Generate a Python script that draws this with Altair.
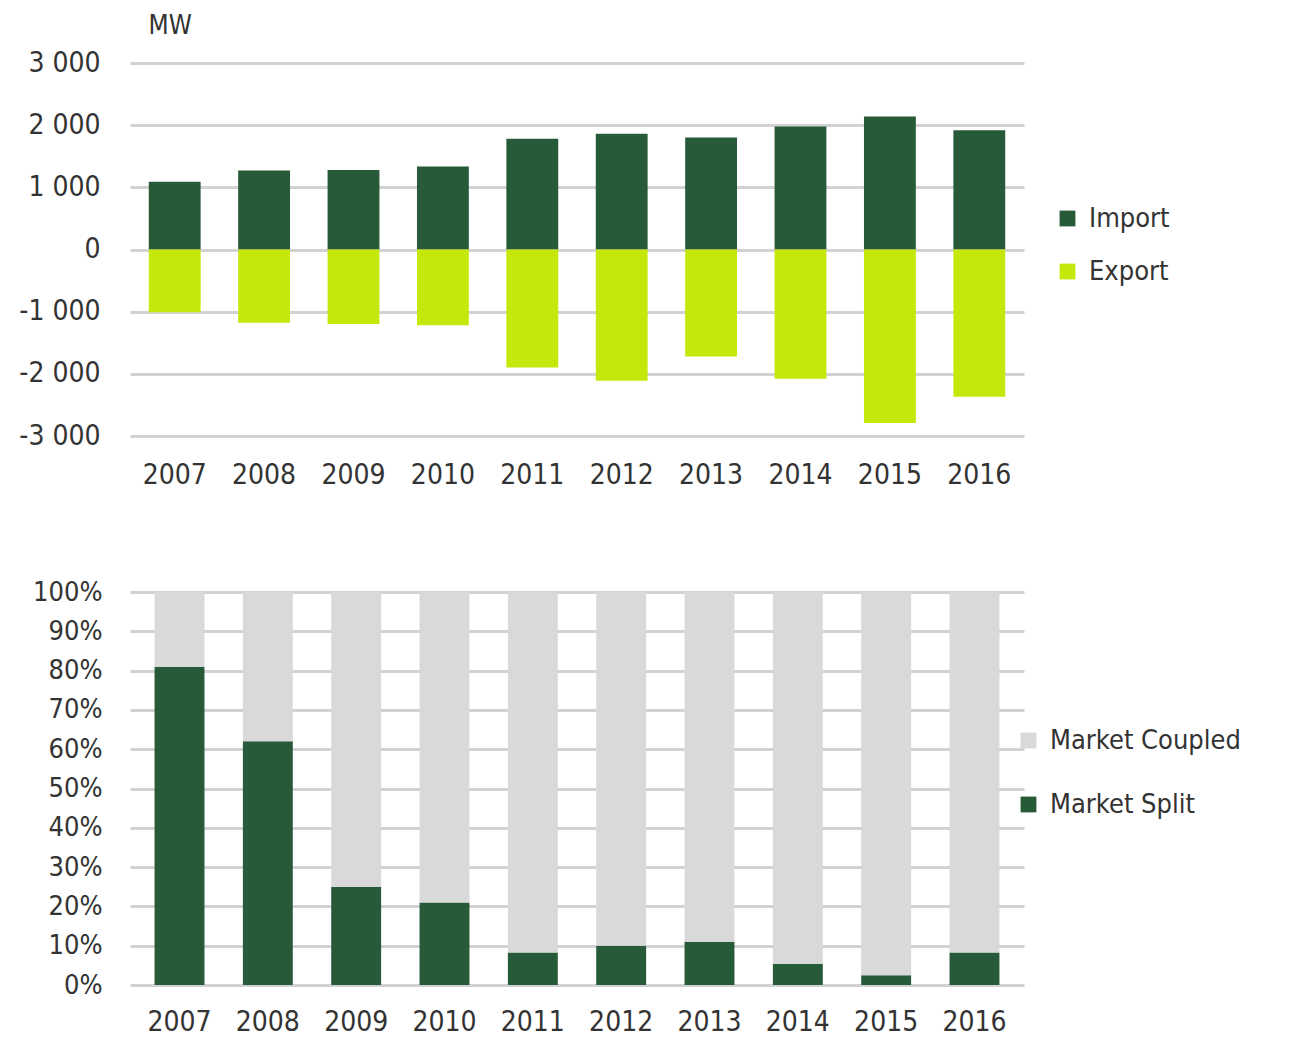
import altair as alt
import pandas as pd

years = ["2007", "2008", "2009", "2010", "2011", "2012", "2013", "2014", "2015", "2016"]
import_mw = [1090, 1270, 1280, 1335, 1780, 1860, 1800, 1980, 2140, 1920]
export_mw = [-1010, -1180, -1200, -1220, -1900, -2110, -1720, -2080, -2790, -2370]
market_split = [0.81, 0.62, 0.25, 0.21, 0.083, 0.10, 0.11, 0.054, 0.025, 0.083]
market_coupled = [0.19, 0.38, 0.75, 0.79, 0.917, 0.90, 0.89, 0.946, 0.975, 0.917]

FONT = "'DejaVu Sans Condensed', 'Liberation Sans Narrow', 'Roboto Condensed', 'Liberation Sans', sans-serif"
DARK = "#265A38"
LIME = "#C5E80A"
GRAY = "#D9D9D9"
TXT = "#333333"

top_df = pd.DataFrame(
    [{"year": y, "series": "Import", "value": v} for y, v in zip(years, import_mw)]
    + [{"year": y, "series": "Export", "value": v} for y, v in zip(years, export_mw)]
)
bot_df = pd.DataFrame(
    [{"year": y, "series": "Market Split", "value": v, "ord": 0} for y, v in zip(years, market_split)]
    + [{"year": y, "series": "Market Coupled", "value": v, "ord": 1} for y, v in zip(years, market_coupled)]
)

top = alt.Chart(top_df).mark_bar().encode(
    x=alt.X("year:O", title=None, scale=alt.Scale(paddingInner=0.42, paddingOuter=0.21),
            axis=alt.Axis(labelAngle=0, ticks=False, tickSize=0, domain=False, labelPadding=25,
                          labelFontSize=28, labelColor=TXT, labelFont=FONT)),
    y=alt.Y("value:Q", scale=alt.Scale(domain=[-3000, 3000], nice=False),
            axis=alt.Axis(values=[-3000, -2000, -1000, 0, 1000, 2000, 3000],
                          labelExpr="replace(replace(format(datum.value, ','), ',', ' '), '\u2212', '-')",
                          ticks=False, tickSize=0, domain=False, labelPadding=30,
                          labelFontSize=28, labelColor=TXT, labelFont=FONT,
                          gridColor="#D2D2D2", gridWidth=3,
                          title="MW", titleAngle=0, titleAlign="left", titleBaseline="alphabetic",
                          titleX=18, titleY=-30, titleFontSize=26, titleFontWeight="normal",
                          titleColor=TXT, titleFont=FONT)),
    color=alt.Color("series:N", scale=alt.Scale(domain=["Import", "Export"], range=[DARK, LIME]),
                    legend=alt.Legend(title=None, orient="none", legendX=924, legendY=142,
                                      symbolType="square", symbolSize=250, symbolStrokeWidth=0,
                                      labelFontSize=27, labelFont=FONT, labelColor=TXT,
                                      rowPadding=25, labelOffset=8, labelLimit=400)),
).properties(width=894, height=373)

bottom = alt.Chart(bot_df).mark_bar().encode(
    x=alt.X("year:O", title=None, scale=alt.Scale(paddingInner=0.435, paddingOuter=0.278),
            axis=alt.Axis(labelAngle=0, ticks=False, tickSize=0, domain=False, labelPadding=23,
                          labelFontSize=28, labelColor=TXT, labelFont=FONT)),
    y=alt.Y("value:Q", stack="zero", scale=alt.Scale(domain=[0, 1], nice=False),
            axis=alt.Axis(values=[0, 0.1, 0.2, 0.3, 0.4, 0.5, 0.6, 0.7, 0.8, 0.9, 1.0],
                          format=".0%", title=None,
                          ticks=False, tickSize=0, domain=False, labelPadding=28,
                          labelFontSize=27, labelColor=TXT, labelFont=FONT,
                          gridColor="#D2D2D2", gridWidth=3)),
    color=alt.Color("series:N", scale=alt.Scale(domain=["Market Coupled", "Market Split"], range=[GRAY, DARK]),
                    legend=alt.Legend(title=None, orient="none", legendX=885, legendY=135,
                                      symbolType="square", symbolSize=250, symbolStrokeWidth=0,
                                      labelFontSize=27, labelFont=FONT, labelColor=TXT,
                                      rowPadding=36, labelOffset=8, labelLimit=400)),
    order=alt.Order("ord:Q"),
).properties(width=894, height=393)

chart = alt.vconcat(top, bottom, spacing=89).resolve_scale(color="independent").properties(
    padding={"left": 10, "top": 4, "right": 0, "bottom": 0}
).configure(font=FONT).configure_view(stroke=None)

chart.save("out.html", embed_options={"renderer": "svg", "actions": False})
